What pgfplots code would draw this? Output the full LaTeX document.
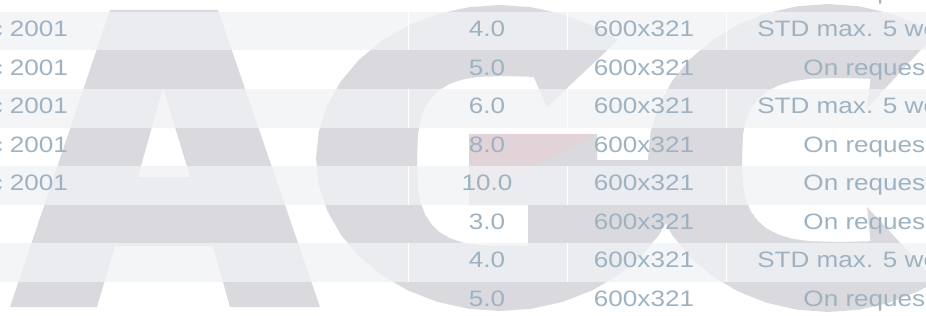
\documentclass[border=0pt]{standalone}
\usepackage{fontspec}
\setmainfont{Liberation Sans}
\usepackage{pgfplots}
\pgfplotsset{compat=1.18}
\usepackage{pgfplotstable}

\definecolor{txt}{RGB}{158,178,194}
\definecolor{wm}{RGB}{218,218,222}
\definecolor{stripe}{RGB}{241,242,244}
\definecolor{pinkwm}{RGB}{226,211,217}

\pgfplotstableread[col sep=comma]{
x,y,label
68,36.7,Dec 2001
68,75.2,Dec 2001
68,113.7,Dec 2001
68,152.2,Dec 2001
68,190.7,Dec 2001
}\leftcol

\pgfplotstableread[col sep=comma]{
x,y,label
487,-0.6,3.0
644,-0.6,600x321
868,-0.6,On request
487,36.7,4.0
644,36.7,600x321
868,36.7,STD max. 5 weeks
487,75.2,5.0
644,75.2,600x321
868,75.2,On request
487,113.7,6.0
644,113.7,600x321
868,113.7,STD max. 5 weeks
487,152.2,8.0
644,152.2,600x321
868,152.2,On request
487,190.7,10.0
644,190.7,600x321
868,190.7,On request
487,229.2,3.0
644,229.2,600x321
868,229.2,On request
487,267.7,4.0
644,267.7,600x321
868,267.7,STD max. 5 weeks
487,306.2,5.0
644,306.2,600x321
868,306.2,On request
}\cells

\pgfplotsset{
  words/.style={draw=none, mark=none, nodes near coords, point meta=explicit symbolic,
    every node near coord/.append style={anchor=#1, inner sep=0pt, outer sep=0pt,
      text=txt, font=\fontsize{22.3bp}{26bp}\selectfont, xscale=1.17}},
}

\begin{document}
\begin{tikzpicture}
\begin{axis}[hide axis, scale only axis, width=926bp, height=316bp,
    xmin=0, xmax=926, ymin=0, ymax=316, y dir=reverse, clip=false,
    at={(0,0)}, anchor=south west]
% watermark letter A
\addplot[fill=wm, draw=none] coordinates {
(110,10) (218,10) (320,307) (230,307) (213,246) (115,246) (97,307) (10,307)} -- cycle;
\addplot[fill=white, draw=none] coordinates {(163,88) (190,177) (138,177)} -- cycle;
% watermark letter G
\addplot[fill=wm, draw=none] coordinates {
(618,40) (592,25.5) (562.9,14.2) (531.9,7.3) (500,5) (468.1,7.3) (437.1,14.2) (408,25.5)
(381.7,40.8) (359.1,59.7) (340.7,81.5) (327.1,105.7) (318.8,131.4) (316,158) (318.8,184.6)
(327.1,210.3) (340.7,234.5) (359.1,256.3) (381.7,275.2) (408,290.5) (437.1,301.8)
(468.1,308.7) (500,311) (531.9,308.7) (562.9,301.8) (592,290.5) (618.3,275.2) (640.9,256.3)
(659.3,234.5) (672.9,210.3) (681.2,184.6) (684,160) (597,160) (597,134) (469,134) (469,205)
(528,205) (528,245.6) (506,246) (478.3,245.1) (462.5,242.5) (449.9,238.2) (439.7,232.2)
(431.5,224.3) (425.1,214.6) (420.6,202.6) (417.9,187.5) (417,161) (417.9,134.5) (420.6,119.4)
(425.1,107.4) (431.5,97.7) (439.7,89.8) (449.9,83.8) (462.5,79.5) (478.3,76.9) (506,76)
(533.7,76.9) (547,107)} -- cycle;
% watermark letter C
\addplot[fill=wm, draw=none] coordinates {
(935.4,34.2) (918,24.6) (889.6,13.3) (859.3,6.3) (828,4) (796.7,6.3) (766.4,13.3) (738,24.6)
(712.3,40) (690.1,59) (672.1,81) (658.9,105.3) (650.7,131.3) (648,158) (650.7,184.7)
(658.9,210.7) (672.1,235) (690.1,257) (712.3,276) (738,291.4) (766.4,302.7) (796.7,309.7)
(828,312) (859.3,309.7) (889.6,302.7) (918,291.4) (936,281.5) (867,207) (870.5,241.2)
(840,242) (809.5,241.2) (792.1,238.7) (778.3,234.5) (767,228.7) (758,221.1) (751,211.7)
(746,200.1) (743,185.5) (742,160) (743,134.5) (746,119.9) (751,108.3) (758,98.9) (767,91.3)
(778.3,85.5) (792.1,81.3) (809.5,78.8) (840,78) (870.5,78.8) (867,108)} -- cycle;
% red tint in the G
\addplot[fill=pinkwm, draw=none] coordinates {(469,134) (597,134) (469,200)} -- cycle;
% table stripes
\addplot[fill=stripe, fill opacity=0.78, draw=none] coordinates {(-5,12) (931,12) (931,50.5) (-5,50.5)} -- cycle;
\addplot[fill=stripe, fill opacity=0.78, draw=none] coordinates {(-5,89) (931,89) (931,127.5) (-5,127.5)} -- cycle;
\addplot[fill=stripe, fill opacity=0.78, draw=none] coordinates {(-5,166) (931,166) (931,204.5) (-5,204.5)} -- cycle;
\addplot[fill=stripe, fill opacity=0.78, draw=none] coordinates {(-5,243) (931,243) (931,281.5) (-5,281.5)} -- cycle;
% column borders
\addplot[white, line width=0.8bp, unbounded coords=jump] coordinates {
(408,12) (408,50.5) (408,nan) (408,89) (408,127.5) (408,nan) (408,166) (408,204.5) (408,nan) (408,243) (408,281.5)};
\addplot[white, line width=0.8bp, unbounded coords=jump] coordinates {
(567,12) (567,50.5) (567,nan) (567,89) (567,127.5) (567,nan) (567,166) (567,204.5) (567,nan) (567,243) (567,281.5)};
\addplot[white, line width=0.8bp, unbounded coords=jump] coordinates {
(726,12) (726,50.5) (726,nan) (726,89) (726,127.5) (726,nan) (726,166) (726,204.5) (726,nan) (726,243) (726,281.5)};
% table text
\addplot[words=base east] table[x=x, y=y, meta=label] {\leftcol};
\addplot[words=base] table[x=x, y=y, meta=label] {\cells};
\end{axis}
\pgfresetboundingbox
\useasboundingbox (0,0) rectangle (926bp,316bp);
\end{tikzpicture}
\end{document}
